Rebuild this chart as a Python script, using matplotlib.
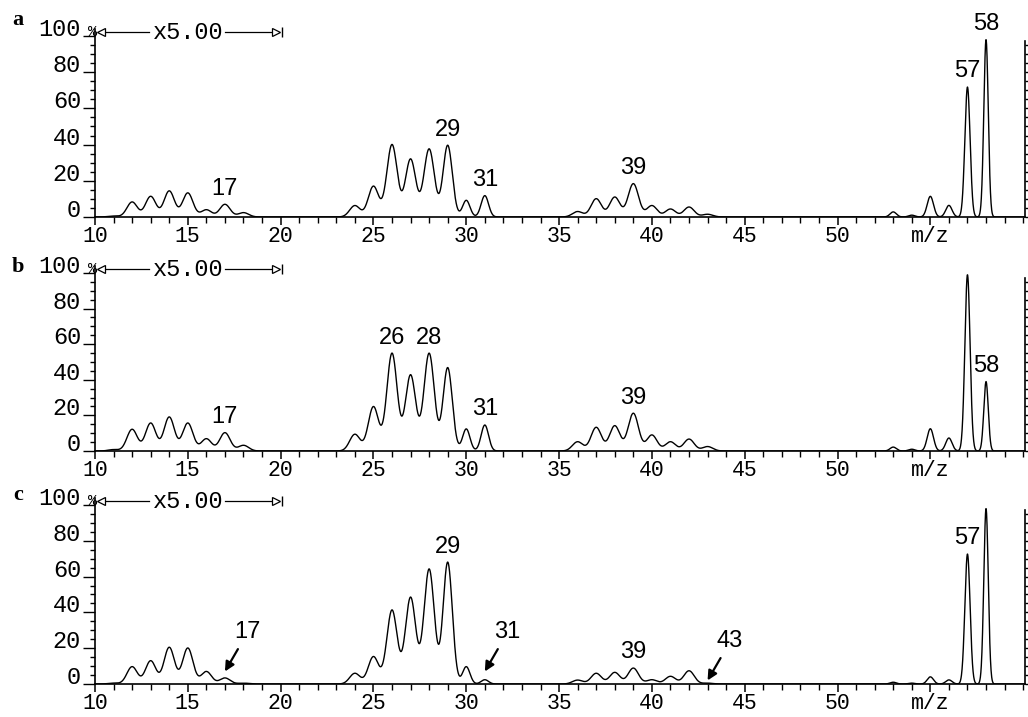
import numpy as np
import matplotlib.pyplot as plt
from matplotlib.ticker import MultipleLocator

plt.rcParams['font.family'] = 'Liberation Mono'

# peak positions (m/z)
mz = [11, 12, 13, 14, 15, 16, 17, 18,
      24, 25, 26, 27, 28, 29, 30, 31,
      36, 37, 38, 39, 40, 41, 42, 43,
      53, 54, 55, 56, 57, 58]

# relative intensities (%), region m/z 10-20 is shown x5
int_a = [0.5, 8.3, 11.4, 14.4, 13.3, 4.0, 7.0, 2.4,
         6.3, 17.0, 40.0, 32.0, 37.6, 39.6, 9.2, 11.8,
         3.0, 10.1, 11.0, 18.4, 6.3, 4.4, 5.5, 1.5,
         2.8, 1.0, 11.4, 6.4, 71.8, 98.0]
int_b = [0.8, 12.2, 15.7, 19.1, 15.7, 6.9, 10.3, 3.2,
         9.4, 24.9, 54.9, 42.7, 54.9, 46.8, 12.4, 14.6,
         5.2, 13.3, 14.2, 21.2, 9.0, 5.2, 6.7, 2.5,
         2.2, 1.0, 12.5, 7.3, 99.0, 39.0]
int_c = [0.5, 9.7, 13.0, 20.5, 20.1, 7.0, 3.4, 0.5,
         6.0, 15.3, 41.3, 48.4, 64.2, 68.0, 9.7, 2.4,
         2.2, 6.0, 6.5, 8.9, 2.4, 4.3, 7.4, 0.5,
         1.0, 0.5, 4.0, 2.3, 72.6, 98.0]

# peaks that get a number over them
labels_a = [17, 29, 31, 39, 57, 58]
labels_b = [17, 26, 28, 31, 39, 58]
labels_c = [29, 39, 57]
arrows_c = [17, 31, 43]

xticks = [10, 15, 20, 25, 30, 35, 40, 45, 50, 55]
xticklabels = ['10', '15', '20', '25', '30', '35', '40', '45', '50', 'm/z']
yticks = [0, 20, 40, 60, 80, 100]


def peak_width(m):
    # gaussian sigma of each line, in m/z units
    if m == 58:
        return 0.12
    if m == 57:
        return 0.14
    if m >= 50:
        return 0.17
    if m in (30, 31):
        return 0.2
    if m == 29:
        return 0.25
    return 0.28


def profile(x, centres, heights):
    y = np.zeros_like(x)
    for m, h in zip(centres, heights):
        s = peak_width(m)
        y += h * np.exp(-0.5 * ((x - m) / s) ** 2)
    return y


def setup_axes(ax):
    ax.set_xlim(10, 60.1)
    ax.set_ylim(0, 104)
    ax.spines['top'].set_visible(False)
    ax.spines['right'].set_visible(False)
    for s in ['left', 'bottom']:
        ax.spines[s].set_linewidth(1.2)
    ax.set_xticks(xticks)
    ax.set_xticklabels(xticklabels)
    ax.xaxis.set_minor_locator(MultipleLocator(1))
    ax.set_yticks(yticks)
    ax.set_yticklabels([str(v) for v in yticks], va='baseline')
    ax.yaxis.set_minor_locator(MultipleLocator(5))
    ax.tick_params(axis='x', which='major', direction='out', length=6,
                   width=1.1, pad=0.5, labelsize=15.5)
    ax.tick_params(axis='x', which='minor', direction='out', length=4.5, width=1.0)
    ax.tick_params(axis='y', which='major', direction='out', length=9,
                   width=1.0, pad=1, labelsize=17)
    ax.tick_params(axis='y', which='minor', direction='out', length=3.5, width=1.0)
    ax.text(-0.003, 100, '%', transform=ax.get_yaxis_transform(),
            ha='center', va='baseline', fontsize=11)

    # right hand intensity scale
    rax = ax.twinx()
    rax.set_ylim(0, 104)
    for s in ['left', 'top', 'bottom']:
        rax.spines[s].set_visible(False)
    rax.spines['right'].set_bounds(0, 97)
    rax.spines['right'].set_linewidth(1.2)
    rax.set_yticks(np.arange(0, 96, 5))
    rax.set_yticklabels([])
    rax.tick_params(axis='y', direction='out', length=4, width=1.0)

    # x5.00 marker over m/z 10-20
    ax.plot([10.3, 12.9], [102, 102], color='k', lw=0.9, clip_on=False)
    ax.plot([17.0, 19.75], [102, 102], color='k', lw=0.9, clip_on=False)
    ax.plot(10.35, 102, marker='<', ms=6, mfc='white', mec='k', mew=0.9, clip_on=False)
    ax.plot(19.75, 102, marker='>', ms=6, mfc='white', mec='k', mew=0.9, clip_on=False)
    ax.plot(20.05, 102, marker='|', ms=7, mec='k', mew=1.0, clip_on=False)
    ax.text(15.0, 102, 'x5.00', ha='center', va='center', fontsize=17)


def draw_panel(ax, heights, labelled, letter, letter_y):
    x = np.linspace(10, 60.1, 6000)
    ax.plot(x, profile(x, mz, heights), color='k', lw=1.0)
    setup_axes(ax)
    for m in labelled:
        h = heights[mz.index(m)]
        ax.annotate(str(m), (m, h), xytext=(0, 7), textcoords='offset points',
                    ha='center', va='baseline', fontsize=17,
                    family='Liberation Sans')
    fig.text(18 / 1028, 1 - letter_y / 717, letter, ha='center', va='center',
             fontsize=16, fontweight='bold', family='Liberation Serif')


fig = plt.figure(figsize=(10.28, 7.17), dpi=100)
ax_a = fig.add_axes([0.0924, 0.6974, 0.9047, 0.2625])
ax_b = fig.add_axes([0.0924, 0.3710, 0.9047, 0.2582])
ax_c = fig.add_axes([0.0924, 0.0460, 0.9047, 0.2597])

draw_panel(ax_a, int_a, labels_a, 'a', 20)
draw_panel(ax_b, int_b, labels_b, 'b', 267)
draw_panel(ax_c, int_c, labels_c, 'c', 495)

# weak peaks in c marked with arrows
tip_y = {17: 7.0, 31: 7.0, 43: 2.0}
for m in arrows_c:
    ty = tip_y[m]
    ax_c.annotate('', xy=(m, ty), xytext=(m + 0.7, ty + 12.5),
                  arrowprops=dict(arrowstyle='-|>', color='k', lw=1.6,
                                  mutation_scale=14, shrinkA=0, shrinkB=0))
    ax_c.text(m + 1.2, ty + 22, str(m), ha='center', va='center',
              fontsize=17, family='Liberation Sans')

fig.savefig('out.png', dpi=100)
